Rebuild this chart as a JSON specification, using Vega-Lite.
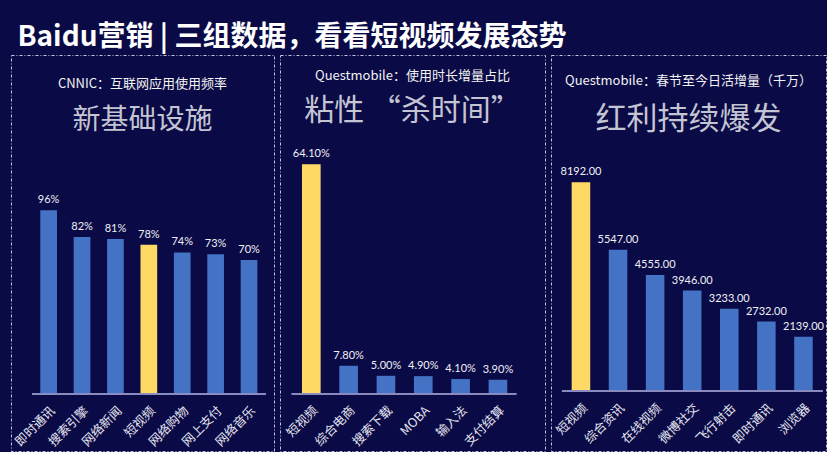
{
  "$schema": "https://vega.github.io/schema/vega-lite/v6.json",
  "background": "#0a0a46",
  "padding": {"left": 10, "top": 23, "right": 0, "bottom": 0},
  "title": {"text": "Baidu营销 | 三组数据，看看短视频发展态势", "anchor": "start", "fontSize": 28, "fontWeight": "bold", "color": "#ffffff", "font": "Noto Sans CJK SC", "dx": 7, "offset": 3, "subtitle": ""},
  "datasets": {
    "p1": [
      {"cat": "即时通讯", "value": 0.96},
      {"cat": "搜索引擎", "value": 0.82},
      {"cat": "网络新闻", "value": 0.81},
      {"cat": "短视频", "value": 0.78},
      {"cat": "网络购物", "value": 0.74},
      {"cat": "网上支付", "value": 0.73},
      {"cat": "网络音乐", "value": 0.70}
    ],
    "p2": [
      {"cat": "短视频", "value": 0.641},
      {"cat": "综合电商", "value": 0.078},
      {"cat": "搜索下载", "value": 0.050},
      {"cat": "MOBA", "value": 0.049},
      {"cat": "输入法", "value": 0.041},
      {"cat": "支付结算", "value": 0.039}
    ],
    "p3": [
      {"cat": "短视频", "value": 8192},
      {"cat": "综合资讯", "value": 5547},
      {"cat": "在线视频", "value": 4555},
      {"cat": "微博社交", "value": 3946},
      {"cat": "飞行射击", "value": 3233},
      {"cat": "即时通讯", "value": 2732},
      {"cat": "浏览器", "value": 2139}
    ]
  },
  "spacing": 4,
  "hconcat": [
    {
      "width": 263, "height": 396,
      "data": {"name": "p1"},
      "title": {"text": "CNNIC：互联网应用使用频率", "subtitle": "新基础设施", "subtitleFontSize": 28, "subtitlePadding": 16, "offset": -80},
      "encoding": {
        "x": {"field": "cat", "type": "nominal", "sort": null,
              "scale": {"paddingInner": 0.5, "paddingOuter": 0.687, "align": 0.638},
              "axis": {"offset": -57}},
        "y": {"field": "value", "type": "quantitative", "scale": {"domain": [-0.298, 1.772], "nice": false, "zero": false}, "axis": null}
      },
      "layer": [
        {"mark": {"type": "bar"}, "encoding": {"y2": {"datum": 0}, "color": {"condition": {"test": "datum.cat === '短视频'", "value": "#FFD966"}, "value": "#4472C4"}}},
        {"mark": {"type": "text", "baseline": "bottom", "dy": -5, "fontSize": 11, "font": "Lato", "color": "#f0f0f5"}, "encoding": {"text": {"field": "value", "format": ".0%"}}},
        {"mark": {"type": "rule", "color": "#8a8cc0", "strokeWidth": 1.5, "xOffset": -16.6, "x2Offset": 16.6}, "encoding": {"x": {"datum": "即时通讯"}, "x2": {"datum": "网络音乐"}, "y": {"datum": 0}}}
      ]
    },
    {
      "width": 265, "height": 396,
      "data": {"name": "p2"},
      "title": {"text": "Questmobile：使用时长增量占比", "subtitle": "粘性 “杀时间”", "subtitleFontSize": 30, "subtitlePadding": 13, "offset": -71},
      "encoding": {
        "x": {"field": "cat", "type": "nominal", "sort": null,
              "scale": {"paddingInner": 0.5, "paddingOuter": 0.8, "align": 0.368},
              "axis": {"offset": -57.3}},
        "y": {"field": "value", "type": "quantitative", "scale": {"domain": [-0.160, 0.946], "nice": false, "zero": false}, "axis": null}
      },
      "layer": [
        {"mark": {"type": "bar"}, "encoding": {"y2": {"datum": 0}, "color": {"condition": {"test": "datum.cat === '短视频'", "value": "#FFD966"}, "value": "#4472C4"}}},
        {"mark": {"type": "text", "baseline": "bottom", "dy": -5, "fontSize": 11, "font": "Lato", "color": "#f0f0f5"}, "encoding": {"text": {"field": "value", "format": ".2%"}}},
        {"mark": {"type": "rule", "color": "#8a8cc0", "strokeWidth": 1.5, "xOffset": -19.5, "x2Offset": 18.3}, "encoding": {"x": {"datum": "短视频"}, "x2": {"datum": "支付结算"}, "y": {"datum": 0}}}
      ]
    },
    {
      "width": 275, "height": 396,
      "data": {"name": "p3"},
      "title": {"text": "Questmobile：春节至今日活增量（千万）", "subtitle": "红利持续爆发", "subtitleFontSize": 31, "subtitlePadding": 17, "offset": -80},
      "encoding": {
        "x": {"field": "cat", "type": "nominal", "sort": null,
              "scale": {"paddingInner": 0.5, "paddingOuter": 0.458, "align": 0.609},
              "axis": {"offset": -59.7}},
        "y": {"field": "value", "type": "quantitative", "scale": {"domain": [-2339, 13178], "nice": false, "zero": false}, "axis": null}
      },
      "layer": [
        {"mark": {"type": "bar"}, "encoding": {"y2": {"datum": 0}, "color": {"condition": {"test": "datum.cat === '短视频'", "value": "#FFD966"}, "value": "#4472C4"}}},
        {"mark": {"type": "text", "baseline": "bottom", "dy": -5, "fontSize": 11, "font": "Lato", "color": "#f0f0f5"}, "encoding": {"text": {"field": "value", "format": ".2f"}}},
        {"mark": {"type": "rule", "color": "#8a8cc0", "strokeWidth": 1.5, "xOffset": -19, "x2Offset": 19}, "encoding": {"x": {"datum": "短视频"}, "x2": {"datum": "浏览器"}, "y": {"datum": 0}}}
      ]
    }
  ],
  "config": {
    "view": {"stroke": "#c4c6e0", "strokeDash": [3, 2, 1, 2], "strokeWidth": 1, "fill": null},
    "axis": {"title": null, "domain": false, "ticks": false, "grid": false, "labelAngle": -45, "labelColor": "#e6e6f0", "labelFont": "Noto Sans CJK SC", "labelFontSize": 12.5, "labelPadding": 10},
    "title": {"color": "#f2f2f2", "fontSize": 13, "fontWeight": "normal", "font": "Noto Sans CJK SC", "subtitleColor": "#c4c5d2", "subtitleFont": "Noto Sans CJK SC", "anchor": "middle"}
  }
}
